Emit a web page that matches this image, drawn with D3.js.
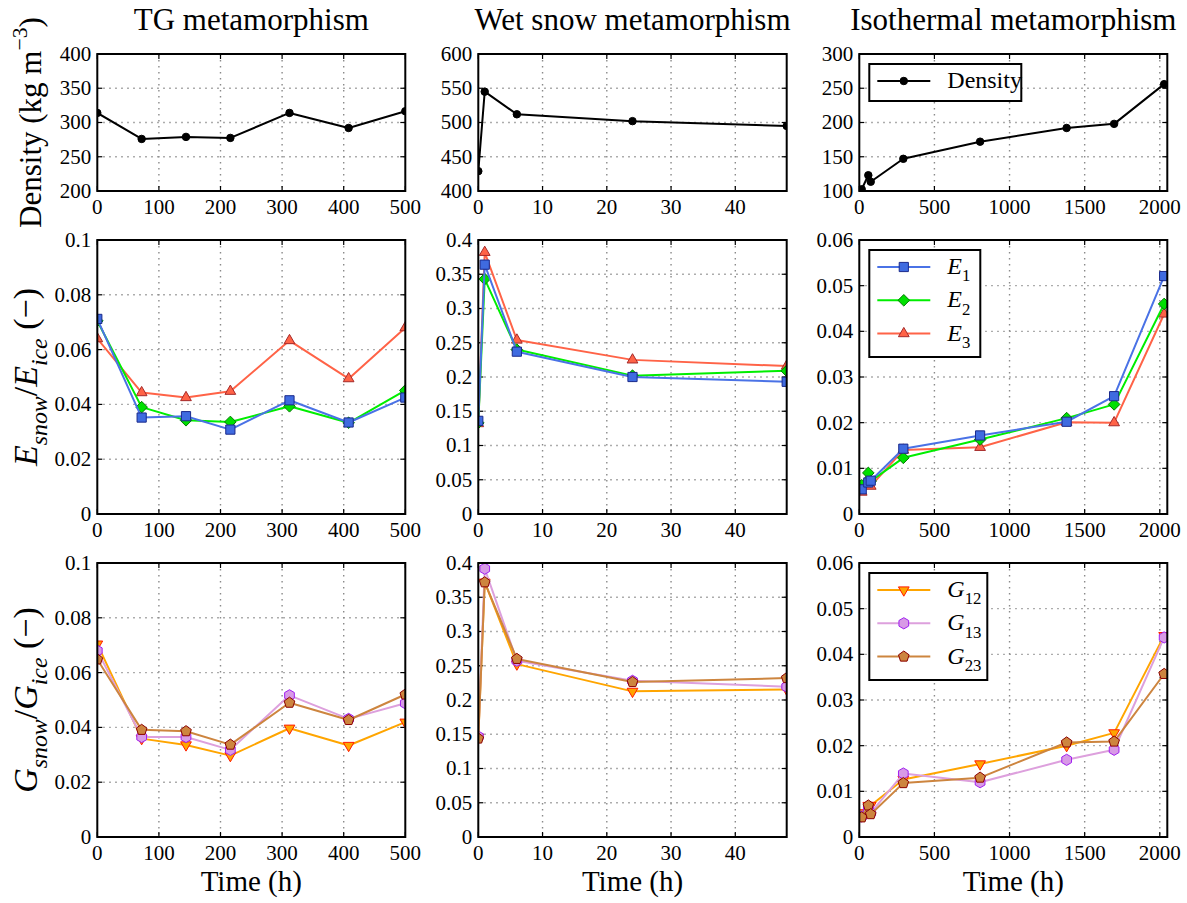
<!DOCTYPE html>
<html>
<head>
<meta charset="utf-8">
<script src="https://cdn.jsdelivr.net/npm/d3@7"></script>
<style>
	body { margin: 0; background: #fff; }
	text { font-family: "Liberation Serif", "Times New Roman", serif; fill: #000; }
</style>
</head>
<body>
<div id="chart"></div>
<script>
// Time axes (h)
const timeTG = [0, 72, 144, 216, 312, 408, 500];
const timeWet = [0, 1, 6, 24, 48];
const timeIso = [16, 60, 76, 293, 804, 1380, 1696, 2029];

// Density (kg m-3)
const densityTG = [314, 276, 279, 277.5, 314, 292, 316.5];
const densityWet = [429, 545, 512, 502, 495];
const densityIso = [102.5, 123, 113.5, 147, 172, 192, 198, 256];

// Young's moduli ratios
const E1TG = [0.0712, 0.0352, 0.0357, 0.0308, 0.0415, 0.0334, 0.0425];
const E2TG = [0.0705, 0.0390, 0.0342, 0.0336, 0.0393, 0.0333, 0.0451];
const E3TG = [0.0640, 0.0443, 0.0425, 0.0448, 0.0633, 0.0494, 0.0680];
const E1Wet = [0.136, 0.364, 0.237, 0.200, 0.193];
const E2Wet = [0.133, 0.343, 0.240, 0.202, 0.209];
const E3Wet = [0.132, 0.382, 0.254, 0.225, 0.216];
const E1Iso = [0.0054, 0.0069, 0.0073, 0.0143, 0.0172, 0.0202, 0.0258, 0.0521];
const E2Iso = [0.0063, 0.0090, 0.0072, 0.0123, 0.0163, 0.0210, 0.0240, 0.0460];
const E3Iso = [0.0048, 0.0078, 0.0061, 0.0140, 0.0146, 0.0201, 0.0200, 0.0438];

// Shear moduli ratios
const G12TG = [0.0704, 0.0359, 0.0336, 0.0297, 0.0397, 0.0334, 0.0419];
const G13TG = [0.0680, 0.0365, 0.0365, 0.0318, 0.0517, 0.0431, 0.0488];
const G23TG = [0.0648, 0.0391, 0.0386, 0.0337, 0.0490, 0.0427, 0.0520];
const G12Wet = [0.1456, 0.372, 0.2524, 0.2126, 0.2155];
const G13Wet = [0.1466, 0.3917, 0.2573, 0.228, 0.2194];
const G23Wet = [0.1437, 0.3718, 0.260, 0.2262, 0.232];
const G12Iso = [0.0053, 0.0069, 0.0069, 0.0126, 0.0160, 0.0200, 0.0228, 0.0441];
const G13Iso = [0.0045, 0.0063, 0.0053, 0.0139, 0.0120, 0.0169, 0.0191, 0.0437];
const G23Iso = [0.0043, 0.0069, 0.0050, 0.0118, 0.0130, 0.0207, 0.0209, 0.0357];

// Titles and axis ticks
const titles = ["TG metamorphism", "Wet snow metamorphism", "Isothermal metamorphism"];
const xTicks = [[0, 100, 200, 300, 400, 500], [0, 10, 20, 30, 40], [0, 500, 1000, 1500, 2000]];
const xDomains = [[0, 500], [0, 48], [0, 2050]];
const yDomains = [
	[[200, 400], [400, 600], [100, 300]],
	[[0, 0.1], [0, 0.4], [0, 0.06]],
	[[0, 0.1], [0, 0.4], [0, 0.06]]
];
const ySteps = [[50, 50, 50], [0.02, 0.05, 0.01], [0.02, 0.05, 0.01]];

const W = 1187, H = 903;
const cols = [[97.3, 405.3], [478.3, 786.7], [859.3, 1167.3]];
const rows = [[54, 191], [240, 514], [563, 837]];
const times = [timeTG, timeWet, timeIso];

// series per row, in drawing order
const series = [
	[{ key: "D", label: [["Density", ""]], data: [densityTG, densityWet, densityIso],
		line: "#000", fill: "#000", edge: "#000", marker: "circle" }],
	[
		{ key: "E3", label: [["E", "i"], ["3", "sub"]], data: [E3TG, E3Wet, E3Iso],
			line: "#ff6347", fill: "#ff6347", edge: "#a52a2a", marker: "triangle" },
		{ key: "E2", label: [["E", "i"], ["2", "sub"]], data: [E2TG, E2Wet, E2Iso],
			line: "#00ee00", fill: "#00e000", edge: "#007a00", marker: "diamond" },
		{ key: "E1", label: [["E", "i"], ["1", "sub"]], data: [E1TG, E1Wet, E1Iso],
			line: "#4a72e6", fill: "#3f6be0", edge: "#1b2a8c", marker: "square" }
	],
	[
		{ key: "G12", label: [["G", "i"], ["12", "sub"]], data: [G12TG, G12Wet, G12Iso],
			line: "#ffa500", fill: "#ffa500", edge: "#ff1a00", marker: "tridown" },
		{ key: "G13", label: [["G", "i"], ["13", "sub"]], data: [G13TG, G13Wet, G13Iso],
			line: "#dda0dd", fill: "#d89ae6", edge: "#a020f0", marker: "hexagon" },
		{ key: "G23", label: [["G", "i"], ["23", "sub"]], data: [G23TG, G23Wet, G23Iso],
			line: "#cd853f", fill: "#cd853f", edge: "#8b0000", marker: "pentagon" }
	]
];
const legendOrder = [[0], [2, 1, 0], [0, 1, 2]];

function polygon(n, r, rot) {
	let pts = d3.range(n).map(i => {
		let a = rot + i * 2 * Math.PI / n;
		return [r * Math.sin(a), -r * Math.cos(a)];
	});
	return "M" + pts.map(p => p[0].toFixed(2) + "," + p[1].toFixed(2)).join("L") + "Z";
}

function markerPath(type) {
	switch (type) {
		case "circle": return d3.symbol(d3.symbolCircle, 44)();
		case "square": return "M-4.6,-4.6H4.6V4.6H-4.6Z";
		case "diamond": return polygon(4, 5.8, 0);
		case "triangle": return polygon(3, 6.2, 0);
		case "tridown": return polygon(3, 6.2, Math.PI);
		case "hexagon": return polygon(6, 5.6, 0);
		case "pentagon": return polygon(5, 5.6, 0);
	}
}

const fmt = v => String(+v.toFixed(4));

// adds rich text: parts = [[text, style]], style "", "i", "sub", "isub", "sup"
function rich(sel, parts, size) {
	let shift = 0;
	parts.forEach(([t, st]) => {
		let target = 0, fs = size, italic = false;
		if (st === "i") italic = true;
		if (st === "sub" || st === "isub") { target = size * 0.3; fs = size * 0.7; }
		if (st === "isub") italic = true;
		if (st === "sup") { target = -size * 0.45; fs = size * 0.7; }
		sel.append("tspan")
			.attr("dy", target - shift)
			.style("font-size", fs + "px")
			.style("font-style", italic ? "italic" : "normal")
			.text(t);
		shift = target;
	});
}

const svg = d3.select("#chart").append("svg")
	.attr("width", W).attr("height", H)
	.style("background", "#fff");

// Titles
titles.forEach((t, c) => {
	svg.append("text")
		.attr("x", (cols[c][0] + cols[c][1]) / 2).attr("y", 30)
		.attr("text-anchor", "middle")
		.style("font-size", "31px").text(t);
});

rows.forEach(([y0, y1], r) => {
	cols.forEach(([x0, x1], c) => {
		let sx = d3.scaleLinear(xDomains[c], [x0, x1]);
		let sy = d3.scaleLinear(yDomains[r][c], [y1, y0]);
		let yTicks = d3.range(yDomains[r][c][0], yDomains[r][c][1] + ySteps[r][c] / 2, ySteps[r][c]);

		let g = svg.append("g");
		let clipId = `clip-${r}-${c}`;
		g.append("clipPath").attr("id", clipId)
			.append("rect").attr("x", x0).attr("y", y0).attr("width", x1 - x0).attr("height", y1 - y0);

		// grid
		let grid = g.append("g")
			.attr("stroke", "#8a8a8a").attr("stroke-width", 1.4)
			.attr("stroke-dasharray", "1.4,4.6");
		grid.selectAll("line.gx").data(xTicks[c].filter(v => v > xDomains[c][0] && v < xDomains[c][1]))
			.join("line").attr("class", "gx")
			.attr("x1", d => sx(d)).attr("x2", d => sx(d)).attr("y1", y0).attr("y2", y1);
		grid.selectAll("line.gy").data(yTicks.slice(1, -1))
			.join("line").attr("class", "gy")
			.attr("x1", x0).attr("x2", x1).attr("y1", d => sy(d)).attr("y2", d => sy(d));

		// tick marks, inward on all sides
		let tk = g.append("g").attr("stroke", "#000").attr("stroke-width", 1.2);
		xTicks[c].forEach(v => {
			tk.append("line").attr("x1", sx(v)).attr("x2", sx(v)).attr("y1", y1).attr("y2", y1 - 5);
			tk.append("line").attr("x1", sx(v)).attr("x2", sx(v)).attr("y1", y0).attr("y2", y0 + 5);
		});
		yTicks.forEach(v => {
			tk.append("line").attr("x1", x0).attr("x2", x0 + 5).attr("y1", sy(v)).attr("y2", sy(v));
			tk.append("line").attr("x1", x1).attr("x2", x1 - 5).attr("y1", sy(v)).attr("y2", sy(v));
		});

		// series
		let plot = g.append("g").attr("clip-path", `url(#${clipId})`);
		series[r].forEach(s => {
			let pts = times[c].map((t, i) => [t, s.data[c][i]]);
			let sg = plot.append("g");
			sg.append("path")
				.attr("d", d3.line().x(d => sx(d[0])).y(d => sy(d[1]))(pts))
				.attr("fill", "none").attr("stroke", s.line).attr("stroke-width", 2)
				.attr("stroke-linejoin", "round");
			sg.selectAll("path.m").data(pts).join("path").attr("class", "m")
				.attr("d", markerPath(s.marker))
				.attr("transform", d => `translate(${sx(d[0])},${sy(d[1])})`)
				.attr("fill", s.fill).attr("stroke", s.edge).attr("stroke-width", 1);
		});

		// frame
		g.append("rect").attr("x", x0).attr("y", y0).attr("width", x1 - x0).attr("height", y1 - y0)
			.attr("fill", "none").attr("stroke", "#000").attr("stroke-width", 2);

		// tick labels
		g.selectAll("text.xt").data(xTicks[c]).join("text").attr("class", "xt")
			.attr("x", d => sx(d)).attr("y", y1 + 23)
			.attr("text-anchor", "middle").style("font-size", "21px").text(fmt);
		g.selectAll("text.yt").data(yTicks).join("text").attr("class", "yt")
			.attr("x", x0 - 6).attr("y", d => sy(d)).attr("dy", "0.33em")
			.attr("text-anchor", "end").style("font-size", "21px").text(fmt);

		// legend in last column
		if (c === 2) {
			let lw = r === 0 ? 152 : (r === 1 ? 111 : 118);
			let lx = x0 + 10, ly = y0 + 10;
			let lh = r === 0 ? 37 : 107;
			let leg = g.append("g");
			leg.append("rect").attr("x", lx).attr("y", ly).attr("width", lw).attr("height", lh)
				.attr("fill", "#fff").attr("stroke", "#000").attr("stroke-width", 2);
			legendOrder[r].forEach((si, k) => {
				let s = series[r][si];
				let yy = ly + 17 + k * 33.3;
				leg.append("line").attr("x1", lx + 8).attr("x2", lx + 61).attr("y1", yy).attr("y2", yy)
					.attr("stroke", s.line).attr("stroke-width", 2);
				leg.append("path").attr("d", markerPath(s.marker))
					.attr("transform", `translate(${lx + 34.5},${yy})`)
					.attr("fill", s.fill).attr("stroke", s.edge).attr("stroke-width", 1);
				let t = leg.append("text").attr("x", lx + 78).attr("y", yy + 7).style("font-size", "24px");
				rich(t, s.label, 24);
			});
		}
	});
});

// x labels
cols.forEach(([x0, x1]) => {
	svg.append("text").attr("x", (x0 + x1) / 2).attr("y", 891)
		.attr("text-anchor", "middle").style("font-size", "29px").text("Time (h)");
});

// y labels
const yLabels = [
	[["Density (kg m", ""], ["\u22123", "sup"], [")", ""]],
	[["E", "i"], ["snow", "isub"], ["/", ""], ["E", "i"], ["ice", "isub"], [" (\u2212)", ""]],
	[["G", "i"], ["snow", "isub"], ["/", ""], ["G", "i"], ["ice", "isub"], [" (\u2212)", ""]]
];
const yLabelX = [41, 37, 37];
const yLabelSize = [31, 34, 34];
yLabels.forEach((parts, r) => {
	let cy = (rows[r][0] + rows[r][1]) / 2;
	let t = svg.append("text")
		.attr("transform", `translate(${yLabelX[r]},${cy}) rotate(-90)`)
		.attr("text-anchor", "middle").style("font-size", yLabelSize[r] + "px");
	rich(t, parts, yLabelSize[r]);
});
</script>
</body>
</html>
